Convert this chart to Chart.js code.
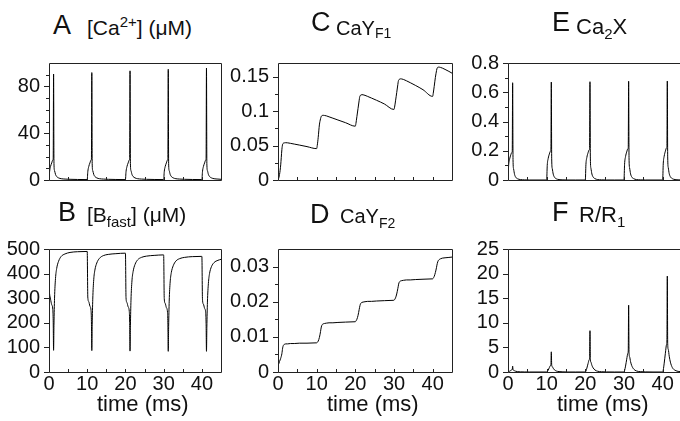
<!DOCTYPE html>
<html>
<head>
<meta charset="utf-8">
<script src="https://cdn.jsdelivr.net/npm/chart.js@4.4.1/dist/chart.umd.min.js"></script>
<style>
  html, body { margin: 0; padding: 0; background: #fff; overflow: hidden; }
  #fig { position: relative; width: 680px; height: 421px; overflow: hidden; font-family: 'Liberation Sans', Arial, sans-serif; color: #111; }
  #fig canvas { position: absolute; }
  .big, .lab, .xt { position: absolute; line-height: 1; white-space: nowrap; }
  .big { font-size: 27px; }
  .lab { font-size: 20px; }
  .xt { font-size: 22px; }
  .sup { font-size: 14px; position: relative; top: -8px; }
  .sub { font-size: 14px; position: relative; top: 5px; }
</style>
</head>
<body>
<div id="fig">
  <canvas id="pA"></canvas>
  <canvas id="pB"></canvas>
  <canvas id="pC"></canvas>
  <canvas id="pD"></canvas>
  <canvas id="pE"></canvas>
  <canvas id="pF"></canvas>

  <div class="big" style="left:53px;top:12px">A</div>
  <div class="lab" style="left:87px;top:17px;font-size:21px">[Ca<span class="sup" style="font-size:15px">2+</span>] (μM)</div>
  <div class="big" style="left:58px;top:199px">B</div>
  <div class="lab" style="left:87px;top:204px;font-size:21px">[B<span class="sub" style="font-size:15px">fast</span>] (μM)</div>
  <div class="big" style="left:311px;top:9px">C</div>
  <div class="lab" style="left:336px;top:18px">CaY<span class="sub" style="top:3px">F1</span></div>
  <div class="big" style="left:310px;top:201px">D</div>
  <div class="lab" style="left:340px;top:206px">CaY<span class="sub">F2</span></div>
  <div class="big" style="left:552px;top:9px">E</div>
  <div class="lab" style="left:576px;top:16px;font-size:22px">Ca<span class="sub" style="font-size:15px">2</span>X</div>
  <div class="big" style="left:552px;top:199px">F</div>
  <div class="lab" style="left:579px;top:204px;font-size:22px">R/R<span class="sub" style="font-size:15px">1</span></div>

  <div class="xt" style="left:97px;top:393px">time (ms)</div>
  <div class="xt" style="left:327px;top:393px">time (ms)</div>
  <div class="xt" style="left:557px;top:393px">time (ms)</div>
</div>
<script>
// time axis (ms), shared by all six panels
const time = [
  0, 0.15, 0.4, 0.7, 1.0, 1.1, 1.2, 1.3, 1.45, 1.7, 2.0, 2.5, 3.2, 4.2, 5.5, 7.5, 9.95,
  10, 10.15, 10.4, 10.7, 11.0, 11.1, 11.2, 11.3, 11.45, 11.7, 12.0, 12.5, 13.2, 14.2, 15.5, 17.5, 19.95,
  20, 20.15, 20.4, 20.7, 21.0, 21.1, 21.2, 21.3, 21.45, 21.7, 22.0, 22.5, 23.2, 24.2, 25.5, 27.5, 29.95,
  30, 30.15, 30.4, 30.7, 31.0, 31.1, 31.2, 31.3, 31.45, 31.7, 32.0, 32.5, 33.2, 34.2, 35.5, 37.5, 39.95,
  40, 40.15, 40.4, 40.7, 41.0, 41.1, 41.2, 41.3, 41.45, 41.7, 42.0, 42.5, 43.2, 44.2, 45
];

// A  [Ca2+] (uM)
const caFree = [
  0, 7, 11.5, 14.5, 17, 18, 90.5, 14, 8, 4.8, 3.0, 1.8, 1.1, 0.8, 0.6, 0.45, 0.35,
  0.35, 7, 11.5, 14.5, 17, 18, 91.8, 14, 8, 4.8, 3.0, 1.8, 1.1, 0.8, 0.6, 0.45, 0.35,
  0.35, 7, 11.5, 14.5, 17, 18.2, 93.3, 14, 8, 4.8, 3.0, 1.8, 1.1, 0.8, 0.6, 0.45, 0.35,
  0.35, 7, 11.5, 14.5, 17, 18.3, 94.6, 14, 8, 4.8, 3.0, 1.8, 1.1, 0.8, 0.6, 0.45, 0.35,
  0.35, 7, 11.5, 14.5, 17, 18.5, 95.6, 14, 8, 4.8, 3.0, 1.8, 1.1, 0.8, 0.6
];

// B  [B_fast] (uM)
const bFast = [
  345, 318, 296, 274, 254, 208, 88, 195, 300, 380, 420, 450, 470, 480, 486, 489, 490,
  490, 305, 286, 268, 250, 205, 87, 192, 296, 375, 414, 443, 462, 473, 478, 481, 483,
  483, 302, 282, 265, 247, 202, 85, 188, 292, 370, 408, 437, 456, 466, 471, 474, 476,
  476, 299, 279, 262, 244, 200, 84, 185, 288, 366, 404, 432, 451, 461, 466, 469, 470,
  470, 296, 276, 259, 241, 198, 84, 182, 284, 360, 400, 428, 445, 454, 458
];

// C  CaY_F1
const cayF1 = [
  0, 0.002, 0.008, 0.022, 0.044, 0.049, 0.052, 0.053, 0.0537, 0.054, 0.0542, 0.054, 0.0533, 0.0522, 0.0508, 0.0485, 0.0456,
  0.0456, 0.05, 0.062, 0.08, 0.089, 0.091, 0.0925, 0.0933, 0.0938, 0.094, 0.0938, 0.0932, 0.0918, 0.0898, 0.0872, 0.0832, 0.0782,
  0.0782, 0.082, 0.092, 0.104, 0.116, 0.12, 0.122, 0.123, 0.1235, 0.124, 0.1238, 0.123, 0.1214, 0.119, 0.1158, 0.1105, 0.1025,
  0.1025, 0.106, 0.115, 0.127, 0.139, 0.143, 0.145, 0.146, 0.1465, 0.147, 0.1468, 0.146, 0.1442, 0.1414, 0.1376, 0.1312, 0.1215,
  0.1215, 0.126, 0.136, 0.149, 0.159, 0.1615, 0.163, 0.1637, 0.164, 0.164, 0.1636, 0.1626, 0.1607, 0.1578, 0.1552
];

// D  CaY_F2
const cayF2 = [
  0.0018, 0.0022, 0.003, 0.0039, 0.0052, 0.006, 0.0068, 0.0073, 0.0077, 0.0079, 0.008, 0.008, 0.0081, 0.0081, 0.0082, 0.0082, 0.0083,
  0.0083, 0.0084, 0.0088, 0.0098, 0.0115, 0.0122, 0.0128, 0.0132, 0.0135, 0.0137, 0.0138, 0.0139, 0.014, 0.014, 0.0141, 0.0142, 0.0143,
  0.0143, 0.0145, 0.015, 0.0161, 0.0178, 0.0184, 0.0189, 0.0193, 0.0196, 0.0198, 0.0199, 0.02, 0.0201, 0.0201, 0.0202, 0.0203, 0.0204,
  0.0204, 0.0206, 0.0211, 0.0222, 0.0238, 0.0244, 0.025, 0.0254, 0.0257, 0.0259, 0.026, 0.0261, 0.0262, 0.0262, 0.0263, 0.0264, 0.0265,
  0.0265, 0.0267, 0.0272, 0.0283, 0.0298, 0.0304, 0.0309, 0.0313, 0.0317, 0.032, 0.0322, 0.0324, 0.0325, 0.0326, 0.0327
];

// E  Ca2X
const ca2X = [
  0, 0.095, 0.14, 0.17, 0.188, 0.195, 0.665, 0.14, 0.075, 0.038, 0.019, 0.008, 0.003, 0.001, 0, 0, 0,
  0, 0.1, 0.148, 0.178, 0.197, 0.205, 0.67, 0.145, 0.078, 0.04, 0.02, 0.008, 0.003, 0.001, 0, 0, 0,
  0, 0.105, 0.155, 0.186, 0.206, 0.215, 0.672, 0.15, 0.08, 0.041, 0.021, 0.009, 0.003, 0.001, 0, 0, 0,
  0, 0.108, 0.16, 0.192, 0.213, 0.222, 0.675, 0.155, 0.083, 0.042, 0.021, 0.009, 0.003, 0.001, 0, 0, 0,
  0, 0.11, 0.164, 0.197, 0.219, 0.228, 0.677, 0.158, 0.085, 0.043, 0.022, 0.009, 0.003, 0.001, 0
];

// F  R/R1
const ratioR = [
  0, 0.03, 0.15, 0.3, 0.45, 0.5, 1.2, 0.45, 0.35, 0.25, 0.15, 0.07, 0.03, 0.01, 0, 0, 0,
  0, 0.1, 0.4, 0.9, 1.35, 1.5, 4.1, 1.4, 1.1, 0.75, 0.45, 0.2, 0.08, 0.03, 0, 0, 0,
  0, 0.2, 0.8, 1.7, 2.5, 2.8, 8.4, 2.6, 2.0, 1.35, 0.85, 0.4, 0.15, 0.05, 0.01, 0, 0,
  0, 0.3, 1.2, 2.6, 3.8, 4.3, 13.6, 4.0, 3.1, 2.1, 1.3, 0.6, 0.22, 0.07, 0.02, 0, 0,
  0, 0.4, 1.8, 3.8, 5.6, 6.3, 19.5, 5.8, 4.6, 3.2, 2.0, 0.9, 0.35, 0.1, 0.05
];

// tick labels and tick marks
const timeTicks = [0, 10, 20, 30, 40];
const timeMarks = [5, 10, 15, 20, 25, 30, 35, 40];
const caTicks = [0, 40, 80];
const caMinor = [10, 20, 30, 50, 60, 70, 90];
const bTicks = [0, 100, 200, 300, 400, 500];
const bMinor = [];
const f1Ticks = [0, 0.05, 0.1, 0.15];
const f1Minor = [0.025, 0.075, 0.125];
const f2Ticks = [0, 0.01, 0.02, 0.03];
const f2Minor = [0.005, 0.015, 0.025];
const xTicks = [0, 0.2, 0.4, 0.6, 0.8];
const xMinor = [0.1, 0.3, 0.5, 0.7];
const rTicks = [0, 5, 10, 15, 20, 25];
const rMinor = [];

Chart.defaults.font.family = "'Liberation Sans', Arial, sans-serif";
Chart.defaults.font.size = 20;
Chart.defaults.color = "#111";

const YW = 60, PAD_T = 14, PAD_R = 10;

// box around the plot area plus the small tick marks
const framePlugin = {
    id: "frame",
    afterDatasetsDraw(chart, args, o) {
        const { ctx, chartArea: a } = chart;
        const xs = chart.scales.x, ys = chart.scales.y;
        ctx.save();
        ctx.strokeStyle = "#222";
        ctx.lineWidth = 1;
        ctx.beginPath();
        ctx.rect(a.left + 0.5, a.top + 0.5, a.right - a.left, a.bottom - a.top);
        o.major.forEach((v) => {
            const py = Math.round(ys.getPixelForValue(v)) + 0.5;
            ctx.moveTo(a.left - 5, py);
            ctx.lineTo(a.left + 0.5, py);
        });
        o.minor.forEach((v) => {
            const py = Math.round(ys.getPixelForValue(v)) + 0.5;
            ctx.moveTo(a.left - 3, py);
            ctx.lineTo(a.left + 0.5, py);
        });
        timeMarks.forEach((v) => {
            const px = Math.round(xs.getPixelForValue(v)) + 0.5;
            ctx.moveTo(px, a.bottom);
            ctx.lineTo(px, a.bottom - 3);
        });
        ctx.stroke();
        ctx.restore();
    },
};

function panel(id, box, values, yMax, major, minor, showX) {
    const [L, T, R, B] = box;
    const XH = showX ? 40 : 14;
    const canvas = document.getElementById(id);
    canvas.width = R - L + YW + PAD_R;
    canvas.height = B - T + PAD_T + XH;
    canvas.style.left = L - YW + "px";
    canvas.style.top = T - PAD_T + "px";

    new Chart(canvas, {
        type: "line",
        data: {
            datasets: [
                {
                    data: time.map((t, i) => ({ x: t, y: values[i] })),
                    borderColor: "#000",
                    borderWidth: 1,
                    pointRadius: 0,
                    cubicInterpolationMode: "monotone",
                    fill: false,
                },
            ],
        },
        options: {
            responsive: false,
            animation: false,
            events: [],
            layout: { padding: { top: PAD_T, right: PAD_R, left: 0, bottom: 0 } },
            plugins: {
                legend: { display: false },
                tooltip: { enabled: false },
                frame: { major, minor },
            },
            scales: {
                x: {
                    type: "linear",
                    min: 0,
                    max: 45,
                    grid: { display: false, drawTicks: false },
                    border: { display: false },
                    ticks: { display: showX, padding: 0, maxRotation: 0, autoSkip: false, callback: (v) => String(v) },
                    afterBuildTicks: (s) => { s.ticks = timeTicks.map((v) => ({ value: v })); },
                    afterFit: (s) => { s.height = XH; },
                },
                y: {
                    min: 0,
                    max: yMax,
                    grid: { display: false, drawTicks: false },
                    border: { display: false },
                    ticks: { padding: 9, autoSkip: false, callback: (v) => String(v) },
                    afterBuildTicks: (s) => { s.ticks = major.map((v) => ({ value: v })); },
                    afterFit: (s) => { s.width = YW; },
                },
            },
        },
        plugins: [framePlugin],
    });
}

panel("pA", [49, 56, 221, 187], caFree, 100, caTicks, caMinor, false);
panel("pB", [49, 242, 221, 372], bFast, 500, bTicks, bMinor, true);
panel("pC", [278, 56, 452, 187], cayF1, 0.17, f1Ticks, f1Minor, false);
panel("pD", [278, 242, 452, 372], cayF2, 0.035, f2Ticks, f2Minor, true);
panel("pE", [508, 56, 682, 187], ca2X, 0.8, xTicks, xMinor, false);
panel("pF", [508, 242, 682, 372], ratioR, 25, rTicks, rMinor, true);
</script>
</body>
</html>
